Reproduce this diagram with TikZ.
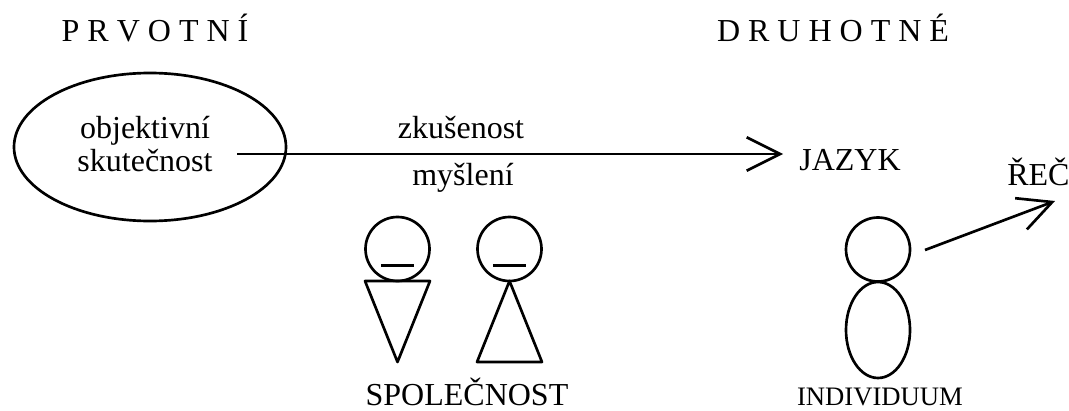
\documentclass[tikz,border=0pt]{standalone}
\usepackage{fontspec}
\setmainfont{Liberation Serif}
\usetikzlibrary{arrows.meta, shapes.geometric}

\tikzset{
	big/.style={font=\fontsize{24}{25}\selectfont,inner sep=0pt,anchor=base},
	small/.style={font=\fontsize{20}{22}\selectfont,inner sep=0pt,anchor=base},
	head/.style={draw,circle,minimum size=48pt,inner sep=0pt,outer sep=0pt},
	barb/.style={-{Straight Barb[length=25pt,width=25pt,line width=2pt]}},
}

\begin{document}
\begin{tikzpicture}[x=0.75pt,y=-0.75pt,line width=2pt]
		\useasboundingbox (0,0) rectangle (1069,410);

		\node[big] (prvotni) at (155,42) {P R V O T N Í};
		\node[big] (druhotne) at (833,42) {D R U H O T N É};

		\node[draw,ellipse,minimum width=204pt,minimum height=111pt,inner sep=0pt] (skutecnost) at (150,147) {};
		\node[big,align=center,anchor=center] (text) at (145,144) {objektivní\\skutečnost};

		\coordinate (start) at (237,154);
		\node[big,anchor=base west] (jazyk) at (798,170) {JAZYK};
		\coordinate (tip) at (783,154);
		\draw[barb] (start) -- (tip);
		\node[big] (zkusenost) at (461,138) {zkušenost};
		\node[big] (mysleni) at (463,185) {myšlení};

		% the two people
		\node[head] (hlavaA) at (397.5,249) {};
		\node[head] (hlavaB) at (509.5,249) {};
		\foreach \n in {A,B}
			\draw ([xshift=-12.5pt,yshift=-12.5pt]hlava\n.center) -- ([xshift=12.5pt,yshift=-12.5pt]hlava\n.center);
		\draw[line join=round] (365,281) -- (430,281) -- (397.5,362) -- cycle;
		\draw[line join=round] (509.5,281) -- (542,362) -- (477,362) -- cycle;
		\node[big] (spolecnost) at (467,405) {SPOLEČNOST};

		\node[head] (hlava) at (878,249.5) {};
		\node[draw,ellipse,minimum width=48pt,minimum height=72pt,inner sep=0pt] (telo) at (878,330) {};
		\node[small] (individuum) at (880,405) {INDIVIDUUM};

		\node[big,anchor=base west] (rec) at (1006,185) {ŘEČ};
		\coordinate (from) at (925,250);
		\coordinate (to) at (1055,201);
		\draw[barb] (from) -- (to);
	\end{tikzpicture}
\end{document}
